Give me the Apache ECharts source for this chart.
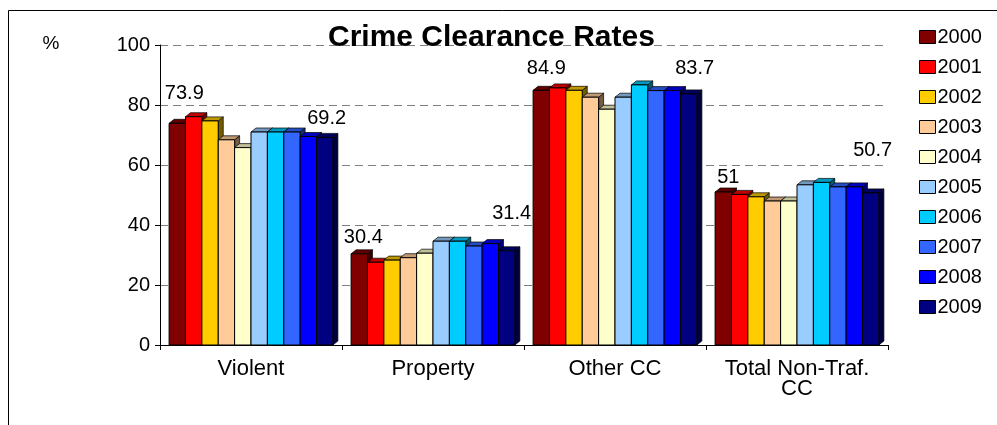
<!DOCTYPE html>
<html><head><meta charset="utf-8">
<script src="https://cdn.jsdelivr.net/npm/echarts@6/dist/echarts.min.js"></script>
<style>html,body{margin:0;padding:0;background:#fff}#c{width:997px;height:425px}</style>
</head><body><div id="c"></div>
<script>
const categories = ['Violent', 'Property', 'Other CC', 'Total Non-Traf.\nCC'];
const years = ['2000','2001','2002','2003','2004','2005','2006','2007','2008','2009'];
const v2000 = [73.9, 30.4, 84.9, 51.0];
const v2001 = [76.1, 27.6, 85.7, 50.2];
const v2002 = [74.7, 28.3, 84.9, 49.4];
const v2003 = [68.4, 29.1, 82.6, 48.0];
const v2004 = [65.8, 30.6, 78.6, 48.0];
const v2005 = [71.0, 34.6, 82.6, 53.4];
const v2006 = [71.0, 34.6, 86.7, 54.2];
const v2007 = [71.0, 33.0, 84.8, 52.7];
const v2008 = [69.5, 33.8, 84.8, 52.7];
const v2009 = [69.2, 31.4, 83.7, 50.7];
const yTicks = [0, 20, 40, 60, 80, 100];

const values = [v2000, v2001, v2002, v2003, v2004, v2005, v2006, v2007, v2008, v2009];
const colors = ['#800000','#FF0000','#FFCC00','#FFCC99','#FFFFCC','#99CCFF','#00CCFF','#3366FF','#0000FF','#000080'];
// label offsets (style) for first and last year series, per category
const labelOffsets = {
  0: [[7, -30], [4, -16], [5, -22], [5, -15]],
  9: [[2, -19], [5, -37], [6, -25], [2, -42]]
};
const N = years.length;
const DX = 5, DY = 4;

function shade(hex, f) {
  const n = parseInt(hex.slice(1), 16);
  const r = Math.round(((n >> 16) & 255) * f), g = Math.round(((n >> 8) & 255) * f), b = Math.round((n & 255) * f);
  return 'rgb(' + r + ',' + g + ',' + b + ')';
}

function makeRender(i) {
  return function (params, api) {
    const c = api.value(0), v = api.value(1);
    const base = api.coord([c, 0]);
    const top = api.coord([c, v]);
    const band = api.size([1, 0])[0];
    const w = band * 0.9 / N;
    const x0 = base[0] - band / 2 + band * 0.05 + i * w;
    const yt = top[1], yb = base[1];
    const col = colors[i];
    const children = [
      { type: 'polygon', shape: { points: [[x0 + w, yt], [x0 + w + DX, yt - DY], [x0 + w + DX, yb - DY], [x0 + w, yb]] },
        style: { fill: shade(col, 0.45), stroke: '#000', lineWidth: 0.7 } },
      { type: 'polygon', shape: { points: [[x0, yt], [x0 + DX, yt - DY], [x0 + w + DX, yt - DY], [x0 + w, yt]] },
        style: { fill: shade(col, 0.75), stroke: '#000', lineWidth: 0.7 } },
      { type: 'rect', shape: { x: x0, y: yt, width: w, height: yb - yt },
        style: { fill: col, stroke: '#000', lineWidth: 1 } }
    ];
    if (labelOffsets[i]) {
      const off = labelOffsets[i][params.dataIndex];
      children.push({ type: 'text', x: x0 + w / 2 + off[0], y: yt + off[1],
        style: { text: String(v), fill: '#000', font: '20px Arial, "Liberation Sans", sans-serif', align: 'center', verticalAlign: 'middle' } });
    }
    return { type: 'group', children: children };
  };
}

const series = years.map((y, i) => ({
  name: y,
  type: 'custom',
  renderItem: makeRender(i),
  itemStyle: { color: colors[i], borderColor: '#000', borderWidth: 1 },
  encode: { x: 0, y: 1 },
  data: values[i].map((v, c) => [c, v]),
  clip: false
}));

const chart = echarts.init(document.getElementById('c'), null, { renderer: 'canvas' });
chart.setOption({
  animation: false,
  backgroundColor: '#fff',
  textStyle: { fontFamily: 'Arial, "Liberation Sans", sans-serif' },
  title: {
    text: 'Crime Clearance Rates', left: 328, top: 23, padding: 0,
    textStyle: { fontSize: 30, fontWeight: 'bold', color: '#000', fontFamily: 'Arial, "Liberation Sans", sans-serif' }
  },
  legend: {
    orient: 'vertical', left: 919, top: 27, padding: 0,
    itemWidth: 16, itemHeight: 13, itemGap: 10,
    icon: 'rect',
    data: years,
    textStyle: { fontSize: 20, color: '#000', lineHeight: 20, padding: [0, 0, 0, -3] },
    itemStyle: { borderColor: '#000', borderWidth: 1 }
  },
  grid: { left: 160, right: 109, top: 45, bottom: 80, containLabel: false },
  xAxis: {
    type: 'category', data: categories,
    axisLine: { lineStyle: { color: '#000', width: 1 } },
    axisTick: { show: true, length: 5, lineStyle: { color: '#000' } },
    axisLabel: { fontSize: 22, color: '#000', margin: 14, lineHeight: 20, interval: 0 }
  },
  yAxis: {
    type: 'value', min: 0, max: 100, interval: 20,
    axisLine: { show: true, lineStyle: { color: '#000', width: 1 } },
    axisTick: { show: true, length: 5, lineStyle: { color: '#000' } },
    axisLabel: { fontSize: 20, color: '#000', margin: 10,
      formatter: function (val) { return yTicks.indexOf(val) >= 0 ? String(val) : ''; } },
    splitLine: { show: true, lineStyle: { color: '#808080', type: [8, 5], width: 1 } }
  },
  graphic: [
    { type: 'line', shape: { x1: 8.5, y1: 10.5, x2: 997, y2: 10.5 }, style: { stroke: '#000', lineWidth: 1 } },
    { type: 'line', shape: { x1: 8.5, y1: 10.5, x2: 8.5, y2: 425 }, style: { stroke: '#000', lineWidth: 1 } },
    { type: 'text', x: 51, y: 44, style: { text: '%', font: '19px Arial, "Liberation Sans", sans-serif', fill: '#000', align: 'center', verticalAlign: 'middle' } }
  ],
  series: series
});
</script>
</body></html>
